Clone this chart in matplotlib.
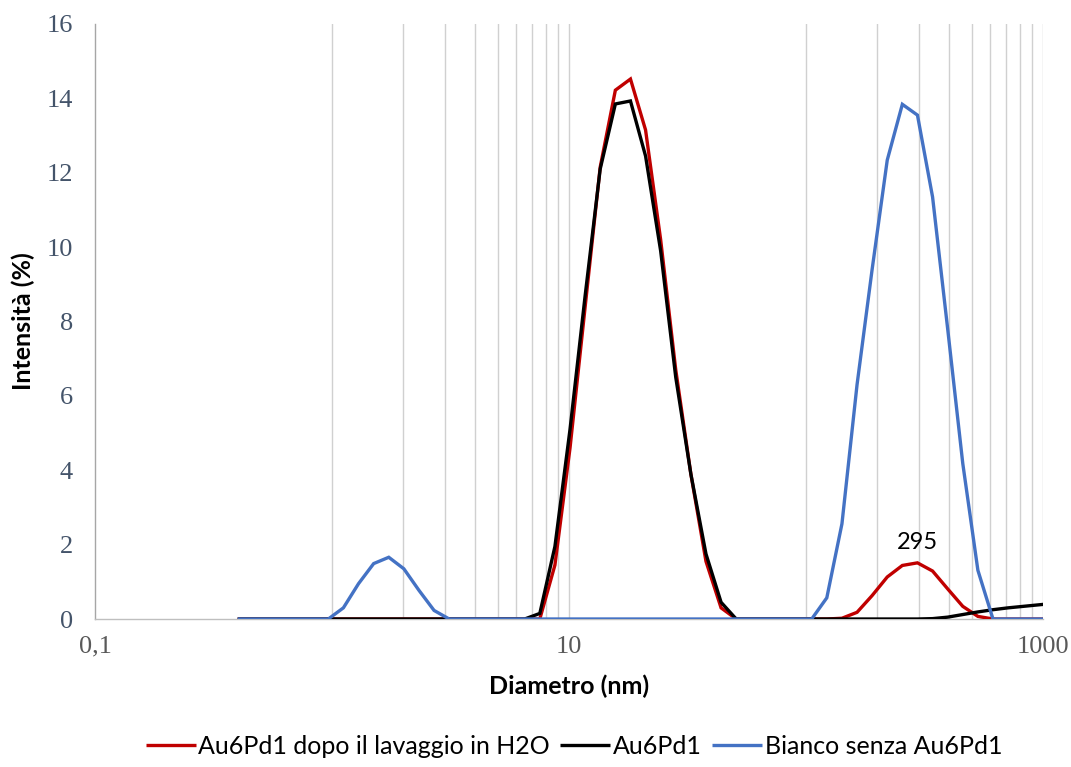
import matplotlib
matplotlib.use("Agg")
import matplotlib.pyplot as plt
from matplotlib.ticker import FixedLocator, NullFormatter

# Size classes (nm) of the DLS instrument
diametro = [0.4, 0.4632, 0.5365, 0.6213, 0.7195, 0.8332, 0.9649, 1.117, 1.294, 1.499,
            1.736, 2.01, 2.328, 2.696, 3.122, 3.615, 4.187, 4.849, 5.615, 6.503,
            7.531, 8.721, 10.1, 11.7, 13.54, 15.69, 18.17, 21.04, 24.36, 28.21,
            32.67, 37.84, 43.82, 50.75, 58.77, 68.06, 78.82, 91.28, 105.7, 122.4,
            141.8, 164.2, 190.1, 220.2, 255.0, 295.3, 342.0, 396.1, 458.7, 531.2,
            615.1, 712.4, 825.0, 955.4, 1106.0]

# Intensity distributions (%)
au6pd1_lavato = [0, 0, 0, 0, 0, 0, 0, 0, 0, 0,
                 0, 0, 0, 0, 0, 0, 0, 0, 0, 0,
                 0, 1.45, 4.6, 8.4, 12.15, 14.22, 14.52, 13.15, 10.2, 6.7,
                 3.9, 1.55, 0.3, 0, 0, 0, 0, 0, 0, 0,
                 0.02, 0.18, 0.63, 1.13, 1.44, 1.51, 1.29, 0.81, 0.34, 0.07,
                 0, 0, 0, 0, 0]
au6pd1 = [0, 0, 0, 0, 0, 0, 0, 0, 0, 0,
          0, 0, 0, 0, 0, 0, 0, 0, 0, 0,
          0.15, 1.95, 5.1, 8.7, 12.1, 13.85, 13.93, 12.45, 9.9, 6.5,
          3.9, 1.75, 0.45, 0, 0, 0, 0, 0, 0, 0,
          0, 0, 0, 0, 0, 0, 0.01, 0.05, 0.12, 0.19,
          0.25, 0.3, 0.34, 0.38, 0.42]
bianco = [0, 0, 0, 0, 0, 0, 0, 0.3, 0.95, 1.49,
          1.66, 1.35, 0.77, 0.23, 0, 0, 0, 0, 0, 0,
          0, 0, 0, 0, 0, 0, 0, 0, 0, 0,
          0, 0, 0, 0, 0, 0, 0, 0, 0, 0.57,
          2.56, 6.3, 9.4, 12.34, 13.84, 13.55, 11.35, 7.8, 4.18, 1.31,
          0, 0, 0, 0, 0]

etichette_serie = ["Au6Pd1 dopo il lavaggio in H2O", "Au6Pd1", "Bianco senza Au6Pd1"]
colori = ["#C00000", "#000000", "#4472C4"]

x_tick_vals = [0.1, 10, 1000]
x_tick_labels = ["0,1", "10", "1000"]
griglia_minore = [1, 2, 3, 4, 5, 6, 7, 8, 9, 100, 200, 300, 400, 500, 600, 700, 800, 900]
y_ticks = [0, 2, 4, 6, 8, 10, 12, 14, 16]
picco_etichetta = (295.3, 1.51, "295")

W, H = 1071, 767
fig = plt.figure(figsize=(W / 100, H / 100), dpi=100)
ax = fig.add_axes([95 / W, 1 - 619 / H, (1043 - 95) / W, (619 - 24) / H])

for ys, lab, col in zip([au6pd1_lavato, au6pd1, bianco], etichette_serie, colori):
    ax.plot(diametro, ys, color=col, lw=2.4, label=lab, solid_joinstyle="miter",
            solid_capstyle="butt", zorder=3)

ax.set_xscale("log")
ax.set_xlim(0.1, 1000)
ax.set_ylim(0, 16)

# vertical grid: major at 0.1 / 10 / 1000, minor at 1..9 and 100..900
for v in griglia_minore + x_tick_vals[1:]:
    ax.axvline(v, color="#D0D0D0", lw=1.0, zorder=1)

ax.xaxis.set_major_locator(FixedLocator(x_tick_vals))
ax.xaxis.set_minor_locator(FixedLocator([]))
ax.xaxis.set_minor_formatter(NullFormatter())
ax.set_xticklabels(x_tick_labels)
ax.set_yticks(y_ticks)

for s in ["top", "right"]:
    ax.spines[s].set_visible(False)
ax.spines["left"].set_color("#A6A6A6")
ax.spines["bottom"].set_color("#BFBFBF")
ax.spines["left"].set_linewidth(1.0)
ax.spines["bottom"].set_linewidth(1.0)

ax.tick_params(axis="both", length=0)
ax.tick_params(axis="y", pad=16, labelsize=19, labelcolor="#44546A")
ax.tick_params(axis="x", pad=12, labelsize=19, labelcolor="#595959")
for t in ax.get_xticklabels() + ax.get_yticklabels():
    t.set_fontfamily("Liberation Serif")

ax.set_xlabel("Diametro (nm)", fontfamily="Lato", fontweight="bold", fontsize=18, labelpad=12)
ax.set_ylabel("Intensità (%)", fontfamily="Lato", fontweight="bold", fontsize=18, labelpad=8)

px, py, ptxt = picco_etichetta
ax.annotate(ptxt, (px, py), xytext=(0, 7), textcoords="offset points", ha="center",
            va="bottom", fontsize=17, fontfamily="Lato", color="#000000")

fig.legend(loc="center", bbox_to_anchor=(574 / W, 1 - 746 / H), ncol=3, frameon=False,
           prop={"family": "Lato", "size": 18}, handlelength=2.0, handletextpad=0.12,
           columnspacing=0.4)

fig.savefig("out.png", dpi=100)
